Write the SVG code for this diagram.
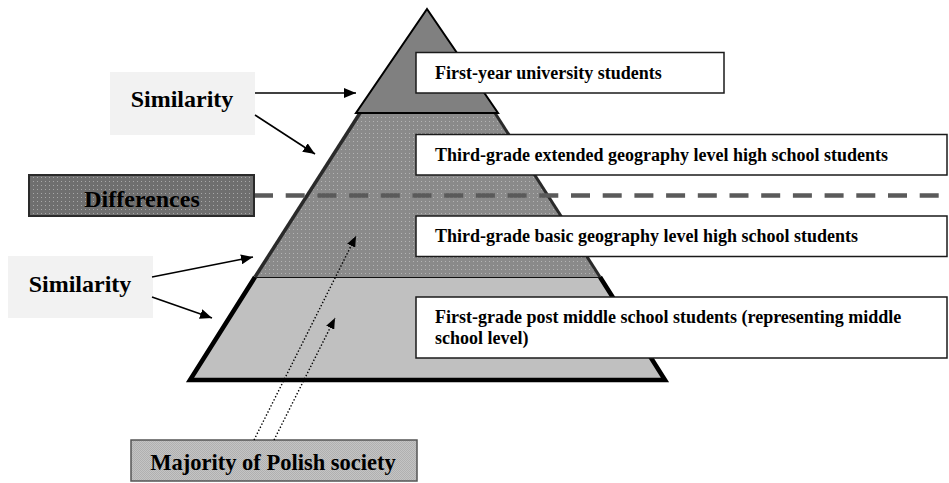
<svg xmlns="http://www.w3.org/2000/svg" width="949" height="483" viewBox="0 0 949 483">
  <defs>
    <!-- light dot grid used on the darker shaded areas -->
    <pattern id="dots" width="4" height="4" patternUnits="userSpaceOnUse">
      <rect width="4" height="4" fill="#8a8a8a"/>
      <rect x="1" y="1" width="1" height="1" fill="#b4b4b4"/>
    </pattern>
    <pattern id="dotsDark" width="4" height="4" patternUnits="userSpaceOnUse">
      <rect width="4" height="4" fill="#6f6f6f"/>
      <rect x="1" y="1" width="1" height="1" fill="#a8a8a8"/>
    </pattern>
    <pattern id="checker" width="2" height="2" patternUnits="userSpaceOnUse">
      <rect width="2" height="2" fill="#c4c4c4"/>
      <rect width="1" height="1" fill="#b0b0b0"/>
      <rect x="1" y="1" width="1" height="1" fill="#b0b0b0"/>
    </pattern>
    <marker id="head" viewBox="0 0 12 10" refX="12" refY="5" markerWidth="12" markerHeight="10" markerUnits="userSpaceOnUse" orient="auto">
      <path d="M0,0 L12,5 L0,10 Z" fill="#000"/>
    </marker>
    <marker id="headSmall" viewBox="0 0 12 10" refX="12" refY="5" markerWidth="11" markerHeight="9" markerUnits="userSpaceOnUse" orient="auto">
      <path d="M0,0 L12,5 L0,10 Z" fill="#000"/>
    </marker>
  </defs>
  <style>
    .label { fill: #fff; stroke: #1a1a1a; stroke-width: 1.5; }
    .ltext { font-family: "Liberation Serif", "Times New Roman", serif; font-weight: bold; font-size: 18px; fill: #000; }
    .big { font-family: "Liberation Serif", "Times New Roman", serif; font-weight: bold; font-size: 24px; fill: #000; text-anchor: middle; }
    .arrow { stroke: #000; stroke-width: 1.6; fill: none; marker-end: url(#head); }
    .dotted { stroke: #000; stroke-width: 1.4; fill: none; stroke-dasharray: 1.4 2; marker-end: url(#headSmall); }
  </style>

  <!-- pyramid tiers -->
  <g id="tier-bottom">
    <polygon points="255,277 600,277 665,380 190,380" fill="#c0c0c0"/>
    <path d="M255,277 L190,380 L665,380 L600,277" fill="none" stroke="#000" stroke-width="4.5" stroke-linejoin="miter"/>
    <line x1="255" y1="277" x2="600" y2="277" stroke="#111" stroke-width="2"/>
  </g>
  <g id="tier-middle">
    <polygon points="360,113 495,113 600,277 255,277" fill="url(#dots)"/>
    <line x1="360" y1="113" x2="255" y2="277" stroke="#2a2a2a" stroke-width="3.5"/>
    <line x1="495" y1="113" x2="600" y2="277" stroke="#2a2a2a" stroke-width="3"/>
  </g>
  <g id="tier-top">
    <polygon points="427,9 498,113 356,113" fill="#808080" stroke="#000" stroke-width="2" stroke-linejoin="miter"/>
  </g>

  <!-- divider between the two halves -->
  <line id="divider" x1="254" y1="195.5" x2="940" y2="195.5" stroke="#5a5a5a" stroke-width="4.5" stroke-dasharray="19 12.7"/>

  <!-- level labels -->
  <g id="label-university">
    <rect class="label" x="416" y="52.5" width="308" height="40.5"/>
    <text class="ltext" x="435" y="79">First-year university students</text>
  </g>
  <g id="label-extended">
    <rect class="label" x="416" y="134.5" width="531" height="40.5"/>
    <text class="ltext" x="435" y="161">Third-grade extended geography level high school students</text>
  </g>
  <g id="label-basic">
    <rect class="label" x="416" y="216" width="531" height="40.5"/>
    <text class="ltext" x="435" y="242">Third-grade basic geography level high school students</text>
  </g>
  <g id="label-first-grade">
    <rect class="label" x="416" y="297" width="531" height="61"/>
    <text class="ltext" x="435" y="323">First-grade post middle school students (representing middle</text>
    <text class="ltext" x="435" y="344">school level)</text>
  </g>

  <!-- side boxes -->
  <g id="similarity-top">
    <rect x="110" y="72" width="145" height="63" fill="#f2f2f2"/>
    <text class="big" x="182" y="107">Similarity</text>
  </g>
  <g id="differences">
    <rect x="29" y="175" width="225" height="41" fill="url(#dotsDark)" stroke="#2a2a2a" stroke-width="2"/>
    <text class="big" x="142" y="207">Differences</text>
  </g>
  <g id="similarity-bottom">
    <rect x="8" y="256" width="145" height="62" fill="#f2f2f2"/>
    <text class="big" x="80" y="292">Similarity</text>
  </g>
  <g id="majority">
    <rect x="131" y="440" width="286" height="41" fill="url(#checker)" stroke="#555" stroke-width="1.5"/>
    <text class="big" x="273" y="470" style="font-size:22.5px">Majority of Polish society</text>
  </g>

  <!-- connectors -->
  <g id="connectors">
    <line class="arrow" x1="255" y1="93" x2="356" y2="93"/>
    <line class="arrow" x1="255" y1="115" x2="315" y2="154"/>
    <line class="arrow" x1="152" y1="277" x2="253" y2="257"/>
    <line class="arrow" x1="152" y1="297" x2="212" y2="318"/>
    <line class="dotted" x1="254" y1="440" x2="356" y2="236"/>
    <line class="dotted" x1="274" y1="440" x2="335" y2="318"/>
  </g>
</svg>
